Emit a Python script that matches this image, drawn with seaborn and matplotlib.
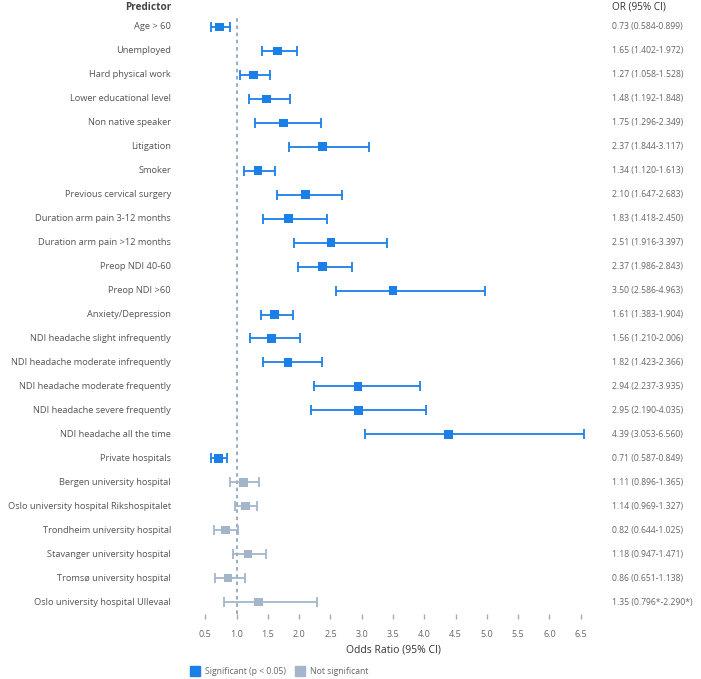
import seaborn as sns
import matplotlib.pyplot as plt
import matplotlib.transforms as mtransforms
from matplotlib.lines import Line2D
import pandas as pd

predictors = ["Age > 60", "Unemployed", "Hard physical work", "Lower educational level",
              "Non native speaker", "Litigation", "Smoker", "Previous cervical surgery",
              "Duration arm pain 3-12 months", "Duration arm pain >12 months",
              "Preop NDI 40-60", "Preop NDI >60", "Anxiety/Depression",
              "NDI headache slight infrequently", "NDI headache moderate infrequently",
              "NDI headache moderate frequently", "NDI headache severe frequently",
              "NDI headache all the time", "Private hospitals", "Bergen university hospital",
              "Oslo university hospital Rikshospitalet", "Trondheim university hospital",
              "Stavanger university hospital", "Tromsø university hospital",
              "Oslo university hospital Ullevaal"]
odds = [0.73, 1.65, 1.27, 1.48, 1.75, 2.37, 1.34, 2.10, 1.83, 2.51, 2.37, 3.50, 1.61,
        1.56, 1.82, 2.94, 2.95, 4.39, 0.71, 1.11, 1.14, 0.82, 1.18, 0.86, 1.35]
lower = [0.584, 1.402, 1.058, 1.192, 1.296, 1.844, 1.120, 1.647, 1.418, 1.916, 1.986, 2.586,
         1.383, 1.210, 1.423, 2.237, 2.190, 3.053, 0.587, 0.896, 0.969, 0.644, 0.947, 0.651, 0.796]
upper = [0.899, 1.972, 1.528, 1.848, 2.349, 3.117, 1.613, 2.683, 2.450, 3.397, 2.843, 4.963,
         1.904, 2.006, 2.366, 3.935, 4.035, 6.560, 0.849, 1.365, 1.327, 1.025, 1.471, 1.138, 2.290]
significant = [True] * 19 + [False] * 6
ci_text = ["0.73 (0.584-0.899)", "1.65 (1.402-1.972)", "1.27 (1.058-1.528)", "1.48 (1.192-1.848)",
           "1.75 (1.296-2.349)", "2.37 (1.844-3.117)", "1.34 (1.120-1.613)", "2.10 (1.647-2.683)",
           "1.83 (1.418-2.450)", "2.51 (1.916-3.397)", "2.37 (1.986-2.843)", "3.50 (2.586-4.963)",
           "1.61 (1.383-1.904)", "1.56 (1.210-2.006)", "1.82 (1.423-2.366)", "2.94 (2.237-3.935)",
           "2.95 (2.190-4.035)", "4.39 (3.053-6.560)", "0.71 (0.587-0.849)", "1.11 (0.896-1.365)",
           "1.14 (0.969-1.327)", "0.82 (0.644-1.025)", "1.18 (0.947-1.471)", "0.86 (0.651-1.138)",
           "1.35 (0.796*-2.290*)"]
xticks = [0.5, 1.0, 1.5, 2.0, 2.5, 3.0, 3.5, 4.0, 4.5, 5.0, 5.5, 6.0, 6.5]

blue = "#1a7fe8"
grey = "#a3b6c9"

df = pd.DataFrame({"predictor": predictors, "OR": odds, "lo": lower, "hi": upper,
                   "sig": significant})
df["y"] = range(len(df))
df["group"] = df["sig"].map({True: "Significant (p < 0.05)", False: "Not significant"})

sns.set_style("white")
plt.rcParams["font.family"] = ["Open Sans", "DejaVu Sans"]

fig = plt.figure(figsize=(7.01, 6.79), dpi=100)
ax = fig.add_axes([199 / 701, 1 - 614 / 679, (587 - 199) / 701, (614 - 15) / 679])

# reference line at OR = 1
ax.axvline(1.0, color="#8fa7bf", lw=1.3, ls=(0, (2, 2)), zorder=1)

for _, r in df.iterrows():
    c = blue if r["sig"] else grey
    ax.errorbar(r["OR"], r["y"], xerr=[[r["OR"] - r["lo"]], [r["hi"] - r["OR"]]],
                fmt="none", ecolor=c, elinewidth=1.3, capsize=3.5, capthick=1.3, zorder=2)

sns.scatterplot(data=df, x="OR", y="y", hue="group", marker="s", s=38, linewidth=0,
                palette={"Significant (p < 0.05)": blue, "Not significant": grey},
                legend=False, ax=ax, zorder=3)

ax.set_xlim(0.4, 6.6)
ax.set_ylim(len(df) - 0.5, -0.5)
ax.set_xticks(xticks)
ax.set_xticklabels([f"{t:.1f}" for t in xticks])
ax.set_yticks([])
ax.set_ylabel("")
ax.set_xlabel("Odds Ratio (95% CI)", fontsize=7.5, color="#333333", labelpad=4)
ax.tick_params(axis="x", length=3.5, width=1, color="#aaaaaa", pad=8, labelsize=6.5,
               labelcolor="#666666", bottom=True)
for s in ax.spines.values():
    s.set_visible(False)

trans = mtransforms.blended_transform_factory(fig.transFigure, ax.transData)
for _, r in df.iterrows():
    ax.text(171 / 701, r["y"], r["predictor"], transform=trans, ha="right", va="center",
            fontsize=6.7, color="#555555")
    ax.text(612 / 701, r["y"], ci_text[r["y"]], transform=trans, ha="left", va="center",
            fontsize=6.2, color="#666666")

fig.text(171 / 701, 1 - 7 / 679, "Predictor", ha="right", va="center", fontsize=7.2,
         fontweight="bold", color="#444444")
fig.text(612 / 701, 1 - 7 / 679, "OR (95% CI)", ha="left", va="center", fontsize=7.2,
         color="#333333")

handles = [Line2D([], [], marker="s", ls="none", color=blue, markersize=7),
           Line2D([], [], marker="s", ls="none", color=grey, markersize=7)]
fig.legend(handles, ["Significant (p < 0.05)", "Not significant"], loc="center left",
           bbox_to_anchor=(183 / 701, 1 - 672 / 679), ncol=2, frameon=False, fontsize=6.2,
           handletextpad=0.6, columnspacing=1.2, handlelength=1.0, labelcolor="#666666")

fig.savefig("out.png", dpi=100)
